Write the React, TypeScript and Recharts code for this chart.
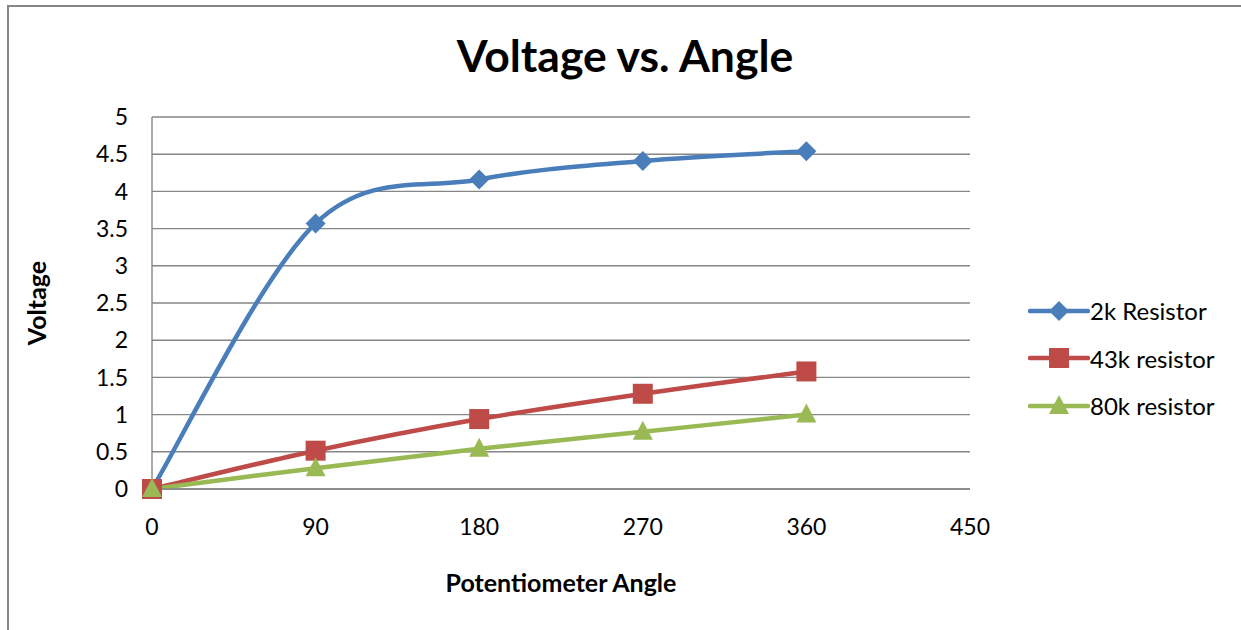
import {CartesianGrid, Line, LineChart, XAxis, YAxis} from 'recharts';

const angles = [0, 90, 180, 270, 360];
const volts2k = [0, 3.57, 4.16, 4.41, 4.54];
const volts43k = [0, 0.515, 0.94, 1.28, 1.58];
const volts80k = [0, 0.28, 0.54, 0.77, 1.0];

const xTicks = [0, 90, 180, 270, 360, 450];
const yTicks = [0, 0.5, 1, 1.5, 2, 2.5, 3, 3.5, 4, 4.5, 5];

const FONT = 'Lato, "Open Sans", sans-serif';
const GRID = '#868686';

const series = [
  { name: '2k Resistor', color: '#4A7EBB', marker: 'diamond', values: volts2k },
  { name: '43k resistor', color: '#BE4B48', marker: 'square', values: volts43k },
  { name: '80k resistor', color: '#98B954', marker: 'triangle', values: volts80k },
];

// excel-style smoothing (catmull-rom through every point)
const excelSmooth = (context: any) => {
  let pts: number[][] = [];
  return {
    areaStart() {},
    areaEnd() {},
    lineStart() { pts = []; },
    point(x: number, y: number) { pts.push([x, y]); },
    lineEnd() {
      if (!pts.length) return;
      context.moveTo(pts[0][0], pts[0][1]);
      for (let i = 0; i < pts.length - 1; i++) {
        const p0 = pts[i - 1] || pts[i];
        const p1 = pts[i];
        const p2 = pts[i + 1];
        const p3 = pts[i + 2] || p2;
        context.bezierCurveTo(
          p1[0] + (p2[0] - p0[0]) / 6, p1[1] + (p2[1] - p0[1]) / 6,
          p2[0] - (p3[0] - p1[0]) / 6, p2[1] - (p3[1] - p1[1]) / 6,
          p2[0], p2[1],
        );
      }
    },
  };
};

function Marker({ cx, cy, kind, color }: { cx: number; cy: number; kind: string; color: string }) {
  if (cx == null || cy == null) return null;
  if (kind === 'diamond') {
    return <polygon points={`${cx},${cy - 10} ${cx + 10},${cy} ${cx},${cy + 10} ${cx - 10},${cy}`} fill={color} />;
  }
  if (kind === 'square') {
    return <rect x={cx - 10} y={cy - 10} width={20} height={20} fill={color} />;
  }
  return <polygon points={`${cx},${cy - 11} ${cx + 10},${cy + 8} ${cx - 10},${cy + 8}`} fill={color} />;
}

function LegendBox() {
  return (
    <div style={{ position: 'absolute', left: 1028, top: 287, fontFamily: FONT, fontSize: 24 }}>
      {series.map(s => (
        <div key={s.name} style={{ display: 'flex', alignItems: 'center', height: 47.5 }}>
          <svg width={62} height={30} style={{ marginRight: 0 }}>
            <line x1={2} y1={15} x2={60} y2={15} stroke={s.color} strokeWidth={4.5} strokeLinecap="round" />
            <Marker cx={31} cy={15} kind={s.marker} color={s.color} />
          </svg>
          <span>{s.name}</span>
        </div>
      ))}
    </div>
  );
}

export default function App() {
  return (
    <div style={{ position: 'fixed', left: 0, top: 0, width: 1241, height: 630, background: '#fff', overflow: 'hidden' }}>
      <div style={{ position: 'absolute', left: 7, top: 5, width: 1300, height: 700, borderLeft: `2px solid ${GRID}`, borderTop: `2px solid ${GRID}` }} />
      <div style={{ position: 'absolute', left: 0, width: 1250, top: 27, textAlign: 'center', fontFamily: FONT, fontWeight: 'bold', fontSize: 44.5, lineHeight: '56px' }}>
        Voltage vs. Angle
      </div>
      <div style={{ position: 'absolute', left: 0, top: 0 }}>
        <LineChart width={1241} height={630} margin={{ top: 117, right: 271, bottom: 91, left: 0 }}>
          <CartesianGrid vertical={false} stroke={GRID} strokeWidth={1.4} />
          <XAxis
            type="number"
            dataKey="x"
            domain={[0, 450]}
            ticks={xTicks}
            height={50}
            stroke={GRID}
            strokeWidth={1.4}
            tickLine={false}
            tickSize={0}
            tickMargin={30}
            tick={{ fill: '#000', fontSize: 23, fontFamily: FONT }}
            label={({ viewBox }: any) => (
              <text x={viewBox.x + viewBox.width / 2} y={viewBox.y + 103} textAnchor="middle" fontFamily={FONT} fontWeight="bold" fontSize={25}>
                Potentiometer Angle
              </text>
            )}
          />
          <YAxis
            type="number"
            domain={[0, 5]}
            ticks={yTicks}
            width={152}
            stroke={GRID}
            strokeWidth={1.4}
            tickLine={false}
            tickSize={0}
            tickMargin={24}
            tick={{ fill: '#000', fontSize: 23, fontFamily: FONT }}
            label={({ viewBox }: any) => {
              const cx = viewBox.x + 36;
              const cy = viewBox.y + viewBox.height / 2;
              return (
                <text x={cx} y={cy} transform={`rotate(-90 ${cx} ${cy})`} textAnchor="middle" dominantBaseline="central" fontFamily={FONT} fontWeight="bold" fontSize={25}>
                  Voltage
                </text>
              );
            }}
          />
          {series.map(s => (
            <Line
              key={s.name}
              data={angles.map((a, i) => ({ x: a, y: s.values[i] }))}
              dataKey="y"
              name={s.name}
              type={excelSmooth as any}
              stroke={s.color}
              strokeWidth={4.5}
              dot={(p: any) => <Marker key={p.index} cx={p.cx} cy={p.cy} kind={s.marker} color={s.color} />}
              isAnimationActive={false}
            />
          ))}
        </LineChart>
      </div>
      <LegendBox />
    </div>
  );
}
